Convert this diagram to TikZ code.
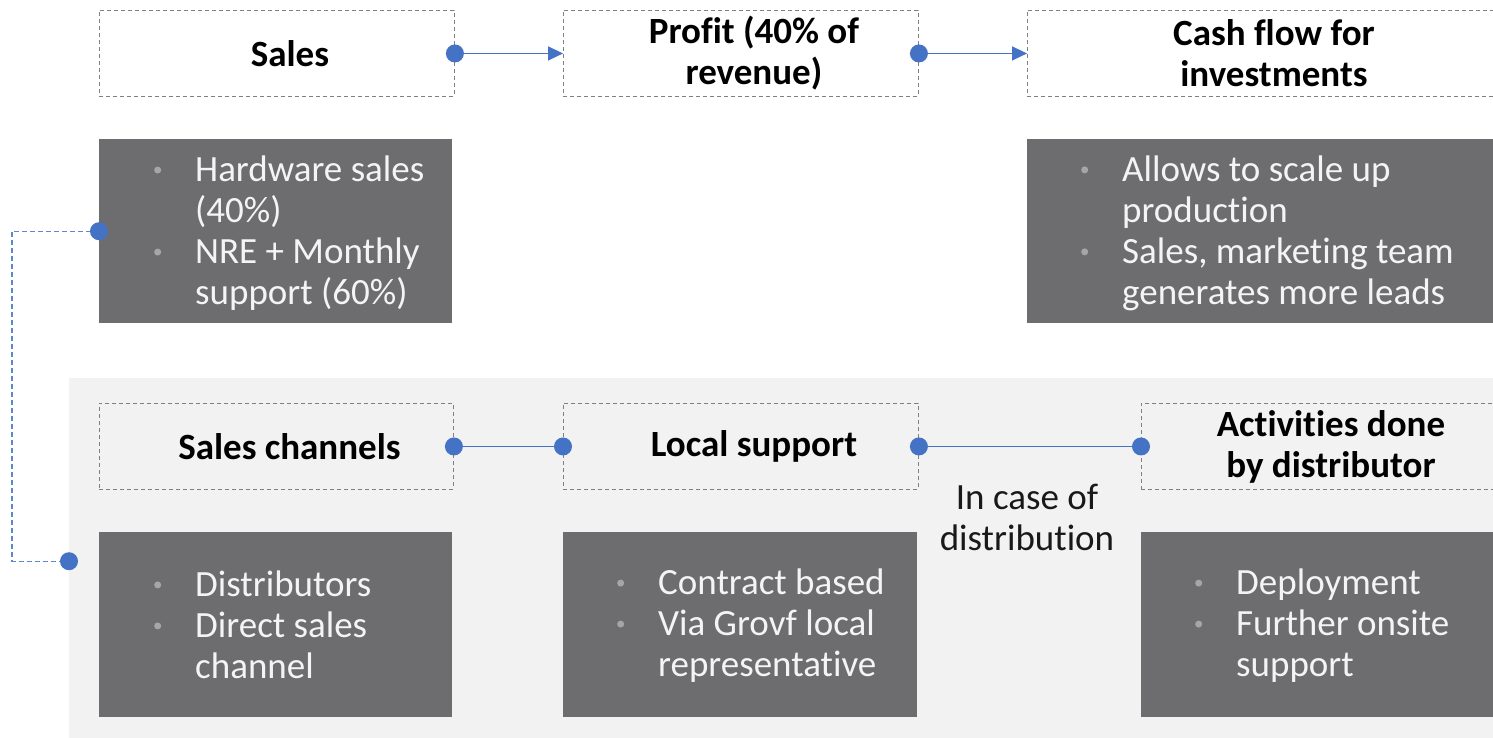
\documentclass[tikz,border=0pt]{standalone}
\usepackage{fontspec}
\setmainfont{Carlito}[Ligatures=NoCommon]
\usetikzlibrary{arrows.meta}

\definecolor{accent}{HTML}{4472C4}
\definecolor{boxfill}{HTML}{6D6D6F}
\definecolor{panelfill}{HTML}{F2F2F2}
\definecolor{edgegrey}{HTML}{808080}
\definecolor{bulletgrey}{HTML}{A6A6A6}
\definecolor{bodytext}{HTML}{F4F4F4}

% grey bullet hung to the left of an item's first line
\newcommand\itembul{\llap{\raisebox{8pt}{\tikz\fill[bulletgrey] (0,0) circle (3.5pt);}\hspace{34pt}}}

\begin{document}
\begin{tikzpicture}[x=1pt,y=-1pt,
  panel/.style={fill=panelfill, draw=none, anchor=north west, inner sep=0},
  headbox/.style={draw=edgegrey, line width=0.9pt, dash pattern=on 4pt off 3pt,
    anchor=north west, inner sep=0, minimum height=86pt},
  darkbox/.style={fill=boxfill, draw=none, anchor=north west, inner sep=0},
  headtext/.style={font=\bfseries\fontsize{37}{41}\selectfont, align=center, inner sep=0, text=black},
  bodytxt/.style={font=\fontsize{37}{41}\selectfont, align=left, inner sep=0, text=bodytext, anchor=west},
  notetext/.style={font=\fontsize{37}{41}\selectfont, align=center, inner sep=0, text=black!90},
  link/.style={draw=accent, line width=1.5pt},
  flow/.style={link, -{Triangle[length=15pt,width=14pt]}},
  jump/.style={draw=accent!85, line width=1.4pt, dash pattern=on 5pt off 3pt},
  pin/.style={fill=accent}
]
\useasboundingbox (0,0) rectangle (1493,737);

% shaded lower band
\node[panel, minimum width=1440pt, minimum height=366pt] (panel) at (69,378) {};

% upper row
\node[headbox, minimum width=355pt] (sales) at (99,10) {};
\node[headbox, minimum width=355pt] (profit) at (563,10) {};
\node[headbox, minimum width=467pt] (cash) at (1027,10) {};
\node[headtext] (salesT) at ([xshift=13pt]sales.center) {Sales};
\node[headtext] (profitT) at ([xshift=13pt]profit.center) {Profit (40\% of\\revenue)};
\node[headtext] (cashT) at ([xshift=13pt]cash.center) {Cash flow for\\investments};

\node[darkbox, minimum width=353pt, minimum height=184pt] (hw) at (99,139) {};
\node[darkbox, minimum width=470pt, minimum height=184pt] (grow) at (1027,139) {};
\node[bodytxt] (hwT) at ([xshift=96pt,yshift=-2pt]hw.west)
  {\itembul Hardware sales\\(40\%)\\\itembul NRE + Monthly\\support (60\%)};
\node[bodytxt] (growT) at ([xshift=95pt,yshift=-2pt]grow.west)
  {\itembul Allows to scale up\\production\\\itembul Sales, marketing team\\generates more leads};

% lower row
\node[headbox, minimum width=354pt] (chan) at (99,403) {};
\node[headbox, minimum width=355pt] (local) at (563,403) {};
\node[headbox, minimum width=353pt] (act) at (1141,403) {};
\node[headtext] (chanT) at ([xshift=13pt]chan.center) {Sales channels};
\node[headtext] (localT) at ([xshift=13pt]local.center) {Local support};
\node[headtext] (actT) at ([xshift=13pt]act.center) {Activities done\\by distributor};

\node[darkbox, minimum width=353pt, minimum height=185pt] (dist) at (99,532) {};
\node[darkbox, minimum width=354pt, minimum height=185pt] (contract) at (563,532) {};
\node[darkbox, minimum width=355pt, minimum height=185pt] (deploy) at (1141,532) {};
\node[bodytxt] (distT) at ([xshift=96pt]dist.west)
  {\itembul Distributors\\\itembul Direct sales\\channel};
\node[bodytxt] (contractT) at ([xshift=95pt,yshift=-1pt]contract.west)
  {\itembul Contract based\\\itembul Via Grovf local\\representative};
\node[bodytxt] (deployT) at ([xshift=95pt,yshift=-1pt]deploy.west)
  {\itembul Deployment\\\itembul Further onsite\\support};

\node[notetext] (note) at (1027,517) {In case of\\distribution};

% connectors
\draw[flow] (sales.east) -- (profit.west);
\draw[flow] (profit.east) -- (cash.west);
\draw[link] (chan.east) -- (local.west);
\draw[link] (local.east) -- (act.west);
\draw[jump] (hw.west) -- ++(-87,0) |- (panel.west);

\foreach \p in {sales.east, profit.east, chan.east, local.west, local.east, act.west, hw.west, panel.west}
  \fill[pin] (\p) circle (9pt);
\end{tikzpicture}
\end{document}
